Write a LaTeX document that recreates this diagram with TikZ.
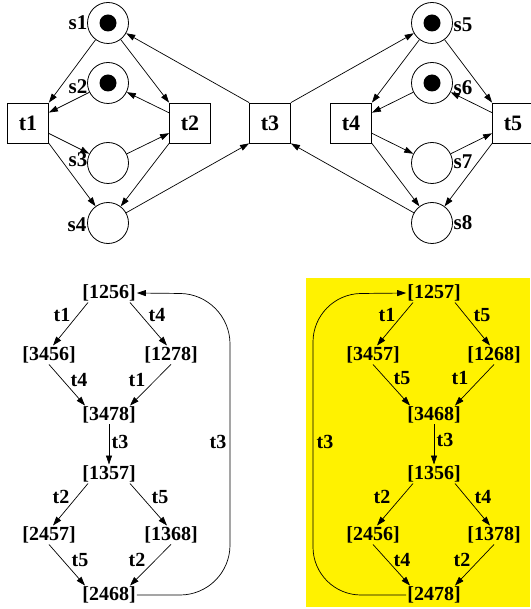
\documentclass[tikz,border=0pt]{standalone}
\usepackage{fontspec}
\setmainfont{Liberation Serif}
\usetikzlibrary{arrows.meta}
\begin{document}
\begin{tikzpicture}[x=1pt,y=-1pt,
  >={Triangle[length=9pt,width=6pt]},
  place/.style={circle,draw,minimum size=41pt,inner sep=0pt,line width=0.8pt},
  trans/.style={rectangle,draw,minimum width=41pt,minimum height=40pt,inner sep=0pt,line width=0.8pt,font=\fontsize{22}{22}\selectfont\bfseries},
  token/.style={circle,fill=black,minimum size=17pt,inner sep=0pt},
  plbl/.style={font=\fontsize{21}{21}\selectfont\bfseries,inner sep=0pt},
  state/.style={font=\fontsize{20}{20}\selectfont\bfseries,inner sep=1pt},
  elbl/.style={font=\fontsize{20}{20}\selectfont\bfseries,inner sep=0pt},
  arc/.style={->,line width=0.7pt}]
\useasboundingbox (0,0) rectangle (530,609);
\fill[yellow] (306,278) rectangle (530,607);
% ---------------- Petri net ----------------
\node[place] (s1) at (108,23) {};
\node[place] (s2) at (108,83) {};
\node[place] (s3) at (108,163) {};
\node[place] (s4) at (108,223) {};
\node[place] (s5) at (432,23) {};
\node[place] (s6) at (432,83) {};
\node[place] (s7) at (432,163) {};
\node[place] (s8) at (432,223) {};
\node[token] (k1) at (s1) {};
\node[token] (k2) at (s2) {};
\node[token] (k5) at (s5) {};
\node[token] (k6) at (s6) {};
\node[trans] (t1) at (28,123) {t1};
\node[trans] (t2) at (190,123) {t2};
\node[trans] (t3) at (270,123) {t3};
\node[trans] (t4) at (351,123) {t4};
\node[trans] (t5) at (513,123) {t5};
\node[plbl] (ls1) at (78,23) {s1};
\node[plbl] (ls2) at (78,87) {s2};
\node[plbl] (ls3) at (78,160) {s3};
\node[plbl] (ls4) at (77,225) {s4};
\node[plbl] (ls5) at (463,25) {s5};
\node[plbl] (ls6) at (463,88) {s6};
\node[plbl] (ls7) at (463,162) {s7};
\node[plbl] (ls8) at (463,223) {s8};
\draw[arc] (s1) -- (t1.north east);
\draw[arc] (s1) -- (t2.north west);
\draw[arc] (s2) -- (t1);
\draw[arc] (t2) -- (s2);
\draw[arc] (t1) -- (s3);
\draw[arc] (s3) -- (t2);
\draw[arc] (t1.south east) -- (s4);
\draw[arc] (t2.south west) -- (s4);
\draw[arc] (s4) -- (t3.south west);
\draw[arc] (t3.north west) -- (s1);
\draw[arc] (t3.north east) -- (s5);
\draw[arc] (s8) -- (t3.south east);
\draw[arc] (s5) -- (t4.north east);
\draw[arc] (s5) -- (t5.north west);
\draw[arc] (s6) -- (t4);
\draw[arc] (t5) -- (s6);
\draw[arc] (t4) -- (s7);
\draw[arc] (s7) -- (t5);
\draw[arc] (t4.south east) -- (s8);
\draw[arc] (t5.south west) -- (s8);
% ---------------- left reachability graph ----------------
\node[state] (a1) at (109,293) {[1256]};
\node[state] (a2) at (49,355) {[3456]};
\node[state] (a3) at (171,355) {[1278]};
\node[state] (a4) at (109,415) {[3478]};
\node[state] (a5) at (109,474) {[1357]};
\node[state] (a6) at (49,535) {[2457]};
\node[state] (a7) at (171,535) {[1368]};
\node[state] (a8) at (109,595) {[2468]};
\draw[arc] ([xshift=-21pt]a1.south) -- ([xshift=4pt]a2.north);
\draw[arc] ([xshift=21pt]a1.south) -- ([xshift=-4pt]a3.north);
\draw[arc] (a2.south) -- ([xshift=-24pt]a4.north);
\draw[arc] (a3.south) -- ([xshift=21pt]a4.north);
\draw[arc] (a4) -- (a5);
\draw[arc] ([xshift=-21pt]a5.south) -- ([xshift=4pt]a6.north);
\draw[arc] ([xshift=21pt]a5.south) -- ([xshift=-4pt]a7.north);
\draw[arc] (a6.south) -- ([xshift=-24pt]a8.north);
\draw[arc] (a7.south) -- ([xshift=21pt]a8.north);
\draw[arc,rounded corners=50pt] (a8.east) -- (230,595) -- (230,294) -- (a1.east);
\node[elbl] (la1) at (62,315) {t1};
\node[elbl] (la2) at (157,315) {t4};
\node[elbl] (la3) at (79,380) {t4};
\node[elbl] (la4) at (137,380) {t1};
\node[elbl] (la5) at (120,442) {t3};
\node[elbl] (la6) at (61,497) {t2};
\node[elbl] (la7) at (160,497) {t5};
\node[elbl] (la8) at (80,560) {t5};
\node[elbl] (la9) at (137,560) {t2};
\node[elbl] (la10) at (218,442) {t3};
% ---------------- right reachability graph ----------------
\node[state] (b1) at (434,293) {[1257]};
\node[state] (b2) at (373,355) {[3457]};
\node[state] (b3) at (494,355) {[1268]};
\node[state] (b4) at (434,415) {[3468]};
\node[state] (b5) at (434,474) {[1356]};
\node[state] (b6) at (373,535) {[2456]};
\node[state] (b7) at (494,535) {[1378]};
\node[state] (b8) at (434,595) {[2478]};
\draw[arc] ([xshift=-21pt]b1.south) -- ([xshift=4pt]b2.north);
\draw[arc] ([xshift=21pt]b1.south) -- ([xshift=-4pt]b3.north);
\draw[arc] (b2.south) -- ([xshift=-24pt]b4.north);
\draw[arc] (b3.south) -- ([xshift=21pt]b4.north);
\draw[arc] (b4) -- (b5);
\draw[arc] ([xshift=-21pt]b5.south) -- ([xshift=4pt]b6.north);
\draw[arc] ([xshift=21pt]b5.south) -- ([xshift=-4pt]b7.north);
\draw[arc] (b6.south) -- ([xshift=-24pt]b8.north);
\draw[arc] (b7.south) -- ([xshift=21pt]b8.north);
\draw[arc,rounded corners=48pt] (b8.west) -- (313,595) -- (313,294) -- (b1.west);
\node[elbl] (lb1) at (387,315) {t1};
\node[elbl] (lb2) at (482,315) {t5};
\node[elbl] (lb3) at (402,378) {t5};
\node[elbl] (lb4) at (460,378) {t1};
\node[elbl] (lb5) at (445,440) {t3};
\node[elbl] (lb6) at (382,497) {t2};
\node[elbl] (lb7) at (483,497) {t4};
\node[elbl] (lb8) at (402,560) {t4};
\node[elbl] (lb9) at (462,560) {t2};
\node[elbl] (lb10) at (325,442) {t3};
\end{tikzpicture}
\end{document}
